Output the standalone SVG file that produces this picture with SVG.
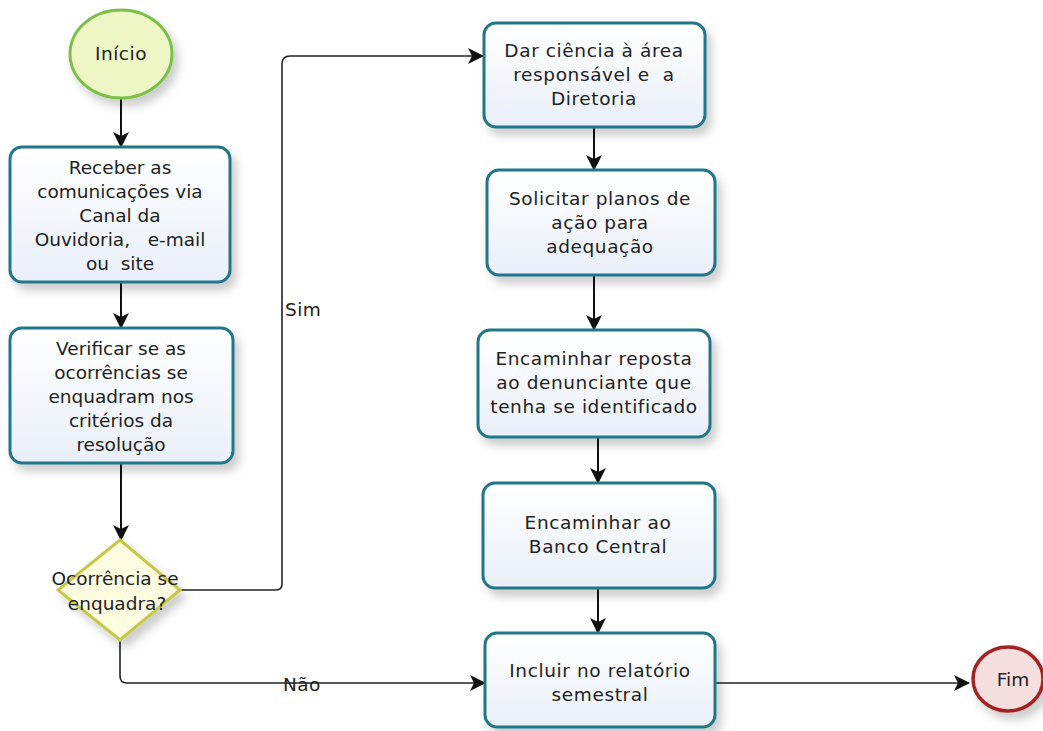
<svg xmlns="http://www.w3.org/2000/svg" width="1043" height="731" viewBox="0 0 1043 731">
<defs>
<style>
.box{fill:url(#boxg);stroke:#23768a;stroke-width:3}
.t{font-family:"DejaVu Sans",Verdana,sans-serif;font-size:18.5px;fill:#222;text-anchor:middle}
.tr{letter-spacing:0.6px}
.lbl{font-family:"DejaVu Sans",Verdana,sans-serif;font-size:18.5px;fill:#222;letter-spacing:0.4px}
.c{fill:none;stroke:#111;stroke-width:2}
.ch{fill:none;stroke:#222;stroke-width:1.6}
</style>
<linearGradient id="boxg" x1="0" y1="0" x2="0" y2="1">
<stop offset="0" stop-color="#ffffff"/>
<stop offset="1" stop-color="#e9eff9"/>
</linearGradient>
<filter id="sh" x="-20%" y="-20%" width="150%" height="150%">
<feDropShadow dx="5" dy="7" stdDeviation="5" flood-color="#000" flood-opacity="0.2"/>
</filter>
<marker id="ar" markerUnits="userSpaceOnUse" markerWidth="18" markerHeight="16" refX="15" refY="8" orient="auto">
<path d="M0,0 L16,8 L0,16 L4,8 z" fill="#111"/>
</marker>
</defs>

<g id="connectors">
<line class="c" x1="121" y1="98" x2="121" y2="147" marker-end="url(#ar)"/>
<line class="c" x1="121" y1="282" x2="121" y2="328" marker-end="url(#ar)"/>
<line class="c" x1="121" y1="463" x2="121" y2="540" marker-end="url(#ar)"/>
<path class="ch" d="M180,590 L276,590 Q282,590 282,584 L282,64 Q282,56 290,56 L483,56" marker-end="url(#ar)"/>
<path class="ch" d="M120,640 L120,676 Q120,683 127,683 L485,683" marker-end="url(#ar)"/>
<line class="c" x1="594" y1="127" x2="594" y2="170" marker-end="url(#ar)"/>
<line class="c" x1="594" y1="275" x2="594" y2="330" marker-end="url(#ar)"/>
<line class="c" x1="598" y1="437" x2="598" y2="483" marker-end="url(#ar)"/>
<line class="c" x1="598" y1="588" x2="598" y2="633" marker-end="url(#ar)"/>
<line class="ch" x1="715" y1="683" x2="969" y2="683" marker-end="url(#ar)"/>
<text class="lbl" x="285" y="316">Sim</text>
<text class="lbl" x="283" y="691">Não</text>
</g>

<g id="inicio">
<ellipse cx="121" cy="54" rx="51" ry="44" fill="#eef6c6" stroke="#7cc04a" stroke-width="3" filter="url(#sh)"/>
<text class="t" x="121" y="60" letter-spacing="0.5">Início</text>
</g>

<g id="receber">
<rect class="box" x="10" y="147" width="220" height="135" rx="12" filter="url(#sh)"/>
<text class="t" x="120" y="174">Receber as</text>
<text class="t" x="120" y="198">comunicações via</text>
<text class="t" x="120" y="222">Canal da</text>
<text class="t" x="120" y="246" xml:space="preserve">Ouvidoria,   e-mail</text>
<text class="t" x="120" y="270" xml:space="preserve">ou  site</text>
</g>

<g id="verificar">
<rect class="box" x="10" y="328" width="223" height="135" rx="12" filter="url(#sh)"/>
<text class="t" x="121" y="355">Verificar se as</text>
<text class="t" x="121" y="379">ocorrências se</text>
<text class="t" x="121" y="403">enquadram nos</text>
<text class="t" x="121" y="427">critérios da</text>
<text class="t" x="121" y="451">resolução</text>
</g>

<g id="decisao">
<polygon points="120,540 180,590 120,640 58,590" fill="#fdfbe0" stroke="#c6c84a" stroke-width="3" filter="url(#sh)"/>
<text class="t" x="115" y="585">Ocorrência se</text>
<text class="t" x="117" y="610">enquadra?</text>
</g>

<g id="dar-ciencia">
<rect class="box" x="484" y="23" width="221" height="104" rx="12" filter="url(#sh)"/>
<text class="t tr" x="594" y="57">Dar ciência à área</text>
<text class="t tr" x="594" y="81" xml:space="preserve">responsável e  a</text>
<text class="t tr" x="594" y="105">Diretoria</text>
</g>

<g id="solicitar">
<rect class="box" x="487" y="170" width="228" height="105" rx="12" filter="url(#sh)"/>
<text class="t tr" x="600" y="205">Solicitar planos de</text>
<text class="t tr" x="600" y="229">ação para</text>
<text class="t tr" x="600" y="253">adequação</text>
</g>

<g id="encaminhar-resposta">
<rect class="box" x="478" y="330" width="232" height="107" rx="12" filter="url(#sh)"/>
<text class="t tr" x="594" y="365">Encaminhar reposta</text>
<text class="t tr" x="594" y="389">ao denunciante que</text>
<text class="t tr" x="594" y="413">tenha se identificado</text>
</g>

<g id="encaminhar-bc">
<rect class="box" x="483" y="483" width="232" height="105" rx="12" filter="url(#sh)"/>
<text class="t tr" x="598" y="529">Encaminhar ao</text>
<text class="t tr" x="598" y="553">Banco Central</text>
</g>

<g id="incluir">
<rect class="box" x="485" y="633" width="230" height="94" rx="12" filter="url(#sh)"/>
<text class="t tr" x="600" y="677">Incluir no relatório</text>
<text class="t tr" x="600" y="701">semestral</text>
</g>

<g id="fim">
<ellipse cx="1008" cy="679" rx="35" ry="32" fill="#f4dede" stroke="#a32323" stroke-width="3.5" filter="url(#sh)"/>
<text class="t" x="1013" y="686">Fim</text>
</g>
</svg>
